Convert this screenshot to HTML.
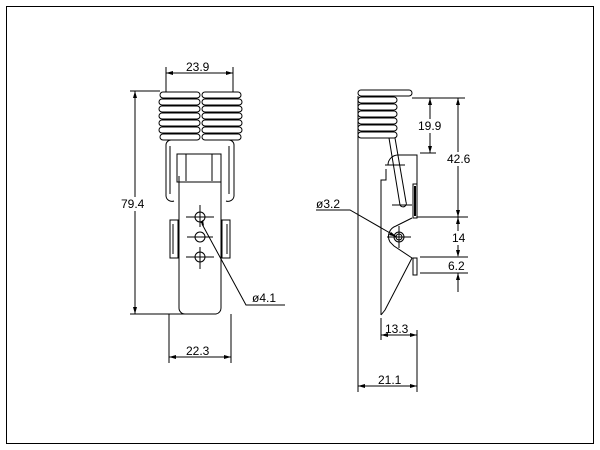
<!DOCTYPE html>
<html><head><style>body{margin:0;background:#fff}svg{display:block}</style></head><body>
<svg width="600" height="450" xmlns="http://www.w3.org/2000/svg" font-family="Liberation Sans, sans-serif" font-size="12">
<rect width="600" height="450" fill="#fff"/>
<rect x="6.5" y="6.5" width="587" height="437" fill="none" stroke="#000"/>
<g stroke="#000" fill="none" stroke-width="1">
<!-- LEFT VIEW -->
<line x1="166" y1="67" x2="166" y2="92"/><line x1="233" y1="67" x2="233" y2="92"/>
<line x1="166" y1="73" x2="233" y2="73"/>
<line x1="130" y1="91" x2="160" y2="91"/><line x1="130" y1="314" x2="185" y2="314"/>
<line x1="135" y1="91" x2="135" y2="314"/>
<g>
<path d="M163 92h34a3 3 0 0 1 0 6h-34a3 3 0 0 1 0-6z M162 99h35a3 3 0 0 1 0 6h-35a3 3 0 0 1 0-6z M162 106h35a3 3 0 0 1 0 6h-35a3 3 0 0 1 0-6z M162 113h35a3 3 0 0 1 0 6h-35a3 3 0 0 1 0-6z M162 120h35a3 3 0 0 1 0 6h-35a3 3 0 0 1 0-6z M162 127h35a3 3 0 0 1 0 6h-35a3 3 0 0 1 0-6z M163 134h34a3 3 0 0 1 0 6h-34a3 3 0 0 1 0-6z"/>
<path d="M205 92h33a3 3 0 0 1 0 6h-33a3 3 0 0 1 0-6z M205 99h34a3 3 0 0 1 0 6h-34a3 3 0 0 1 0-6z M205 106h34a3 3 0 0 1 0 6h-34a3 3 0 0 1 0-6z M205 113h34a3 3 0 0 1 0 6h-34a3 3 0 0 1 0-6z M205 120h34a3 3 0 0 1 0 6h-34a3 3 0 0 1 0-6z M205 127h34a3 3 0 0 1 0 6h-34a3 3 0 0 1 0-6z M205 134h33a3 3 0 0 1 0 6h-33a3 3 0 0 1 0-6z"/>
</g>
<path d="M176 140h-5a5 5 0 0 0-5 5v51a6 6 0 0 0 8 5"/>
<path d="M224 140h5a5 5 0 0 1 5 5v51a6 6 0 0 1-8 5"/>
<path d="M170 146v48M229 146v48"/>
<rect x="177" y="154" width="44" height="28"/>
<line x1="186" y1="154" x2="186" y2="181"/><line x1="212" y1="154" x2="212" y2="181"/>
<path d="M179 176v132a6 6 0 0 0 6 6h31a6 6 0 0 0 5-6v-132"/>
<rect x="170" y="220" width="8" height="38"/><rect x="222" y="220" width="8" height="38"/>
<path d="M173 224v30M227 224v30"/>
<circle cx="200" cy="217" r="5"/><circle cx="200" cy="237" r="5"/><circle cx="200" cy="257" r="5"/>
<path d="M186 217h28M200 205v22M187 237h26M186 257h28M200 247v22"/>
<path d="M202 224L246 305H285"/>
<line x1="169" y1="314" x2="169" y2="363"/><line x1="231" y1="314" x2="231" y2="363"/>
<line x1="169" y1="357" x2="231" y2="357"/>
<!-- RIGHT VIEW -->
<path d="M361 90h48a3 3 0 0 1 0 6h-48a3 3 0 0 1 0-6z M361 97h33a3 3 0 0 1 0 6h-33a3 3 0 0 1 0-6z M361 104h33a3 3 0 0 1 0 6h-33a3 3 0 0 1 0-6z M361 111h33a3 3 0 0 1 0 6h-33a3 3 0 0 1 0-6z M361 118h33a3 3 0 0 1 0 6h-33a3 3 0 0 1 0-6z M361 125h33a3 3 0 0 1 0 6h-33a3 3 0 0 1 0-6z M361 132h33a3 3 0 0 1 0 6h-33a3 3 0 0 1 0-6z"/>
<line x1="358" y1="96" x2="358" y2="392"/>
<line x1="417" y1="330" x2="417" y2="392"/>
<line x1="358" y1="386" x2="417" y2="386"/>
<path d="M389 138L400 205M395 138L406 202M400 205a3 3 0 0 0 6-3"/>
<path d="M381 315V180h5v-11"/>
<path d="M388 165a10 10 0 0 1 10-10h19v63"/>
<rect x="413" y="184" width="4" height="34"/>
<line x1="415" y1="186" x2="415" y2="216" stroke-width="2"/>
<path d="M412 218L396 226a11 11 0 0 0-6 16l4 4 18 12L385 310l-4 5"/>
<rect x="413" y="258" width="4" height="17"/>
<circle cx="399" cy="237" r="5"/><circle cx="399" cy="237" r="3"/>
<path d="M387 237h24M399 226v22M385 165h20M392 205h20"/>
<path d="M316 210h34l47 27"/>
<line x1="412" y1="98" x2="465" y2="98"/>
<line x1="458" y1="98" x2="458" y2="217"/>
<line x1="430" y1="98" x2="430" y2="153"/>
<line x1="420" y1="153" x2="436" y2="153"/>
<line x1="417" y1="217" x2="468" y2="217"/>
<line x1="458" y1="217" x2="458" y2="256"/>
<line x1="420" y1="257" x2="468" y2="257"/>
<line x1="420" y1="273" x2="468" y2="273"/>
<line x1="458" y1="273" x2="458" y2="292"/>
<line x1="381" y1="318" x2="381" y2="340"/>
<line x1="381" y1="335" x2="417" y2="335"/>
</g>
<g fill="#000">
<path d="M166 73l7-2v4zM233 73l-7-2v4zM135 91l-2 7h4zM135 314l-2-7h4zM169 357l7-2v4zM231 357l-7-2v4z"/>
<path d="M358 386l7-2v4zM417 386l-7-2v4zM458 98l-2 7h4zM458 217l-2-7h4zM430 98l-2 7h4zM430 153l-2-7h4zM458 217l-2 7h4zM458 257l-2-7h4zM458 273l-2 7h4zM381 335l7-2v4zM417 335l-7-2v4zM397 237l-6-5-2 3z M204 226l-1-6-3 2z"/>
</g>
<g fill="#fff">
<rect x="121" y="197" width="28" height="14"/>
<rect x="417" y="119" width="27" height="14"/>
<rect x="446" y="152" width="26" height="14"/>
<rect x="451" y="231" width="14" height="14"/>
</g>
<g fill="#000">
<text x="186" y="71">23.9</text>
<text x="121" y="208">79.4</text>
<text x="252" y="302">ø4.1</text>
<text x="186" y="355">22.3</text>
<text x="418" y="130">19.9</text>
<text x="447" y="163">42.6</text>
<text x="452" y="242">14</text>
<text x="448" y="270">6.2</text>
<text x="385" y="333">13.3</text>
<text x="378" y="384">21.1</text>
<text x="316" y="208">ø3.2</text>
</g>
</svg>
</body></html>
